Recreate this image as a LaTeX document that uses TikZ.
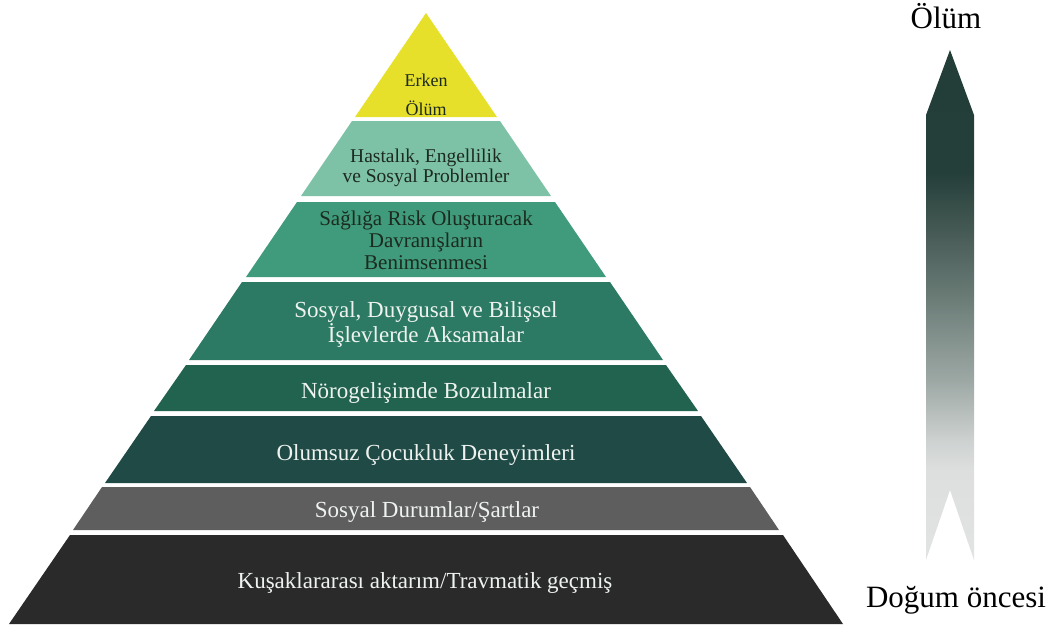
\documentclass[tikz,border=0pt]{standalone}
\usepackage{fontspec}
\setmainfont{Liberation Serif}
\usepackage{xcolor}
\usepackage{tikz}

\definecolor{layerA}{HTML}{E6E02A}
\definecolor{layerB}{HTML}{7DC2A6}
\definecolor{layerC}{HTML}{3F9B7B}
\definecolor{layerD}{HTML}{2C7A63}
\definecolor{layerE}{HTML}{22634F}
\definecolor{layerF}{HTML}{1F4A45}
\definecolor{layerG}{HTML}{5E5E5E}
\definecolor{layerH}{HTML}{2A2A2A}
\definecolor{darktext}{HTML}{1C2A20}
\definecolor{lighttext}{HTML}{EEF3F0}
\definecolor{arrowA}{HTML}{E2E3E3}
\definecolor{arrowB}{HTML}{DDDFDF}
\definecolor{arrowC}{HTML}{CDD1D0}
\definecolor{arrowD}{HTML}{9DA8A5}
\definecolor{arrowE}{HTML}{6C7D78}
\definecolor{arrowF}{HTML}{4B5E59}
\definecolor{arrowG}{HTML}{243E39}
\definecolor{arrowH}{HTML}{233D38}

\pgfdeclareverticalshading{lifeshade}{100bp}{color(0bp)=(arrowA); color(25bp)=(arrowA); color(33.8bp)=(arrowB); color(36.8bp)=(arrowC); color(42.6bp)=(arrowD); color(50.5bp)=(arrowE); color(56.4bp)=(arrowF); color(63bp)=(arrowG); color(75bp)=(arrowH); color(100bp)=(arrowH)}

\begin{document}
\begin{tikzpicture}[x=1pt, y=-1pt]
\tikzstyle{dark} = [text=darktext, align=center]
\tikzstyle{light} = [text=lighttext, align=center, font=\fontsize{23}{25}\selectfont]
\tikzstyle{side} = [text=black, font=\fontsize{31}{33}\selectfont]

\useasboundingbox (0,0) rectangle (1057,632);

% Pyramid layers
\fill[layerA] (426,13) -- (497,117) -- (355,117) -- cycle;
\fill[layerB] (352,121) -- (500,121) -- (551,196) -- (301,196) -- cycle;
\fill[layerC] (297,202) -- (555,202) -- (606,277) -- (246,277) -- cycle;
\fill[layerD] (242,282) -- (610,282) -- (663,360) -- (189,360) -- cycle;
\fill[layerE] (186,365) -- (666,365) -- (698,411) -- (154,411) -- cycle;
\fill[layerF] (151,416) -- (701,416) -- (747,483) -- (105,483) -- cycle;
\fill[layerG] (102,487) -- (750,487) -- (779,530) -- (73,530) -- cycle;
\fill[layerH] (70,535) -- (783,535) -- (843,624) -- (9,624) -- cycle;

% Layer texts
\node[dark, font=\fontsize{18}{29}\selectfont] (erken) at (426,95) {Erken\\Ölüm};
\node[dark, font=\fontsize{19.5}{20}\selectfont] (hastalik) at (426,168) {Hastalık, Engellilik\\ve Sosyal Problemler};
\node[dark, font=\fontsize{21}{22}\selectfont] (risk) at (426,240) {Sağlığa Risk Oluşturacak\\Davranışların\\Benimsenmesi};
\node[light] (islev) at (426,324) {Sosyal, Duygusal ve Bilişsel\\İşlevlerde Aksamalar};
\node[light, anchor=base] (norogelisim) at (426,398) {Nörogelişimde Bozulmalar};
\node[light, anchor=base] (cocukluk) at (426,460) {Olumsuz Çocukluk Deneyimleri};
\node[light, anchor=base] (sosyal) at (427,517) {Sosyal Durumlar/Şartlar};
\node[light, anchor=base] (kusak) at (425,588) {Kuşaklararası aktarım/Travmatik geçmiş};

% Life arrow
\shade[shading=lifeshade] (926,560) -- (926,115) -- (950,50) -- (974,115) -- (974,560) -- (950,490) -- cycle;
\node[side, anchor=base] (olum) at (946,28) {Ölüm};
\node[side, anchor=base] (dogum) at (956,607) {Doğum öncesi};
\end{tikzpicture}
\end{document}
